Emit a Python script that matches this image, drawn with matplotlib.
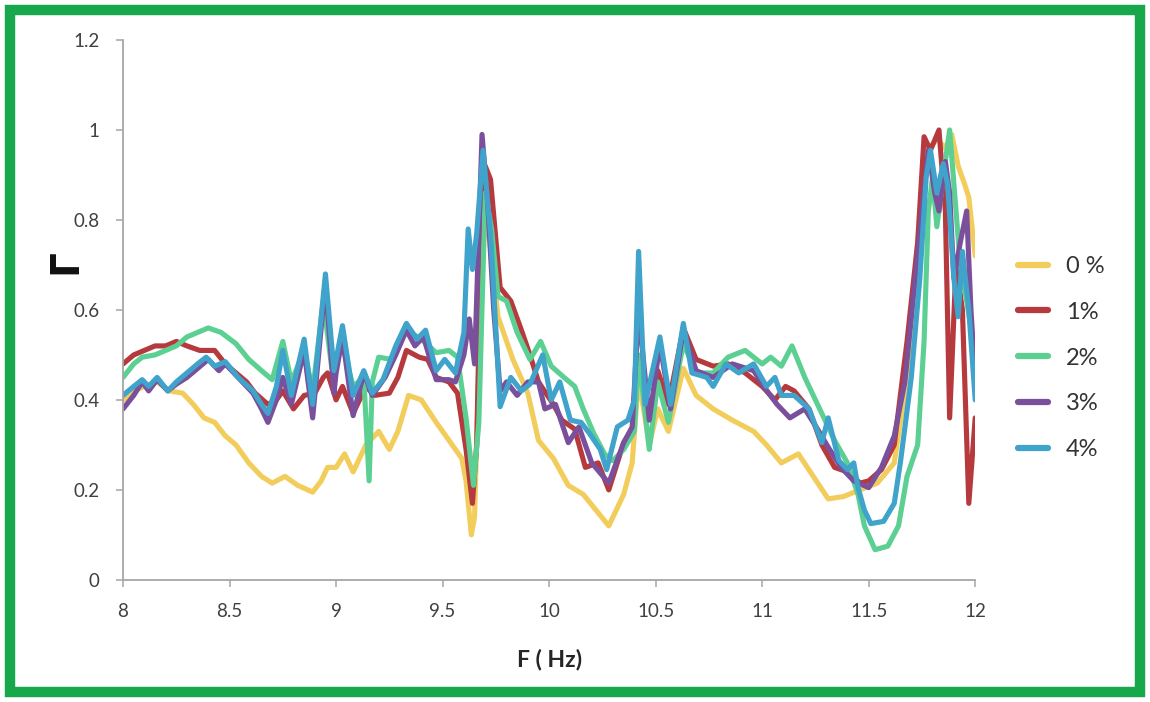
import numpy as np
import matplotlib
matplotlib.use('Agg')
import matplotlib.pyplot as plt
from matplotlib.patches import Rectangle

plt.rcParams['font.family'] = ['Lato', 'DejaVu Sans']

# ---- data ----
yellow_x = [8.00, 8.05, 8.10, 8.16, 8.22, 8.28, 8.33, 8.38, 8.43, 8.48, 8.53, 8.59, 8.65, 8.70, 8.76, 8.82,
            8.89, 8.93, 8.96, 9.00, 9.04, 9.08, 9.14, 9.20, 9.25, 9.29, 9.34, 9.40, 9.47, 9.53, 9.59, 9.61,
            9.635, 9.65, 9.68, 9.70, 9.73, 9.76, 9.83, 9.90, 9.95, 10.02, 10.09, 10.16, 10.22, 10.28, 10.35,
            10.39, 10.42, 10.47, 10.51, 10.56, 10.63, 10.69, 10.77, 10.86, 10.96, 11.02, 11.09, 11.17, 11.24,
            11.31, 11.38, 11.46, 11.54, 11.62, 11.68, 11.73, 11.77, 11.82, 11.86, 11.89, 11.92, 11.95, 11.97, 12.00]
yellow_y = [0.40, 0.42, 0.43, 0.44, 0.42, 0.415, 0.39, 0.36, 0.35, 0.32, 0.30, 0.26, 0.23, 0.215, 0.23, 0.21,
            0.195, 0.22, 0.25, 0.25, 0.28, 0.24, 0.30, 0.33, 0.29, 0.33, 0.41, 0.40, 0.35, 0.31, 0.27, 0.22,
            0.10, 0.14, 0.65, 0.82, 0.72, 0.585, 0.49, 0.415, 0.31, 0.27, 0.21, 0.19, 0.155, 0.12, 0.19,
            0.26, 0.45, 0.30, 0.38, 0.33, 0.47, 0.41, 0.38, 0.355, 0.33, 0.30, 0.26, 0.28, 0.23,
            0.18, 0.185, 0.20, 0.215, 0.26, 0.45, 0.75, 0.95, 0.98, 0.96, 0.99, 0.92, 0.88, 0.85, 0.72]

red_x = [8.00, 8.05, 8.10, 8.15, 8.20, 8.25, 8.30, 8.36, 8.43, 8.48, 8.53, 8.58, 8.62, 8.68, 8.72, 8.75,
         8.80, 8.85, 8.90, 8.94, 8.96, 9.00, 9.03, 9.08, 9.14, 9.18, 9.25, 9.29, 9.33, 9.39, 9.43, 9.47,
         9.53, 9.57, 9.61, 9.64, 9.66, 9.68, 9.70, 9.725, 9.77, 9.82, 9.87, 9.91, 9.95, 10.02, 10.06, 10.12,
         10.17, 10.23, 10.28, 10.35, 10.39, 10.42, 10.47, 10.51, 10.56, 10.63, 10.69, 10.77, 10.84, 10.92,
         11.00, 11.06, 11.11, 11.15, 11.22, 11.28, 11.34, 11.40, 11.46, 11.50, 11.56, 11.62, 11.68, 11.73,
         11.76, 11.79, 11.83, 11.86, 11.88, 11.91, 11.94, 11.97, 12.00]
red_y = [0.48, 0.50, 0.51, 0.52, 0.52, 0.53, 0.52, 0.51, 0.51, 0.48, 0.46, 0.44, 0.415, 0.39, 0.40, 0.42,
         0.38, 0.41, 0.415, 0.45, 0.46, 0.40, 0.43, 0.37, 0.43, 0.41, 0.415, 0.45, 0.51, 0.495, 0.49, 0.45,
         0.44, 0.415, 0.29, 0.17, 0.30, 0.75, 0.92, 0.89, 0.65, 0.62, 0.555, 0.50, 0.44, 0.39, 0.355, 0.335,
         0.25, 0.26, 0.20, 0.305, 0.335, 0.49, 0.36, 0.465, 0.39, 0.56, 0.49, 0.475, 0.48, 0.46,
         0.43, 0.40, 0.43, 0.42, 0.38, 0.30, 0.25, 0.24, 0.215, 0.22, 0.245, 0.30, 0.53, 0.75,
         0.985, 0.955, 1.00, 0.82, 0.36, 0.70, 0.60, 0.17, 0.36]

green_x = [8.00, 8.05, 8.09, 8.15, 8.20, 8.25, 8.30, 8.35, 8.40, 8.46, 8.53, 8.59, 8.65, 8.70, 8.75, 8.79,
           8.85, 8.89, 8.94, 8.98, 9.00, 9.03, 9.08, 9.13, 9.155, 9.17, 9.20, 9.26, 9.33, 9.40, 9.47, 9.53,
           9.57, 9.61, 9.645, 9.67, 9.70, 9.73, 9.76, 9.80, 9.85, 9.91, 9.96, 10.01, 10.07, 10.12, 10.16,
           10.21, 10.26, 10.30, 10.35, 10.40, 10.42, 10.47, 10.51, 10.56, 10.63, 10.69, 10.77, 10.84, 10.92,
           11.00, 11.04, 11.09, 11.14, 11.20, 11.24, 11.29, 11.34, 11.40, 11.45, 11.48, 11.53, 11.59, 11.64,
           11.68, 11.73, 11.76, 11.78, 11.80, 11.82, 11.85, 11.88, 11.90, 11.93, 11.96, 12.00]
green_y = [0.45, 0.48, 0.495, 0.50, 0.51, 0.52, 0.54, 0.55, 0.56, 0.55, 0.525, 0.49, 0.465, 0.445, 0.53, 0.44,
           0.51, 0.42, 0.62, 0.47, 0.49, 0.52, 0.43, 0.45, 0.22, 0.44, 0.495, 0.49, 0.555, 0.535, 0.505, 0.51,
           0.495, 0.36, 0.21, 0.35, 0.86, 0.78, 0.63, 0.62, 0.55, 0.49, 0.53, 0.475, 0.45, 0.43, 0.38,
           0.325, 0.28, 0.265, 0.29, 0.33, 0.50, 0.29, 0.44, 0.35, 0.525, 0.46, 0.46, 0.495, 0.51,
           0.48, 0.495, 0.475, 0.52, 0.45, 0.41, 0.36, 0.31, 0.26, 0.19, 0.12, 0.067, 0.075, 0.12,
           0.23, 0.30, 0.53, 0.82, 0.895, 0.785, 0.895, 1.00, 0.88, 0.70, 0.62, 0.50]

purple_x = [8.00, 8.05, 8.09, 8.12, 8.16, 8.21, 8.25, 8.30, 8.35, 8.40, 8.45, 8.48, 8.54, 8.61, 8.65, 8.68,
            8.72, 8.75, 8.79, 8.85, 8.89, 8.95, 8.99, 9.00, 9.03, 9.08, 9.13, 9.17, 9.23, 9.28, 9.33, 9.37,
            9.41, 9.47, 9.53, 9.56, 9.60, 9.625, 9.65, 9.685, 9.71, 9.74, 9.77, 9.80, 9.85, 9.90, 9.95, 9.98,
            10.03, 10.09, 10.14, 10.20, 10.28, 10.35, 10.39, 10.42, 10.47, 10.52, 10.57, 10.63, 10.69, 10.77,
            10.86, 10.96, 11.03, 11.07, 11.13, 11.20, 11.26, 11.31, 11.37, 11.43, 11.50, 11.56, 11.62, 11.67,
            11.71, 11.75, 11.78, 11.81, 11.83, 11.86, 11.88, 11.90, 11.93, 11.96, 11.98, 12.00]
purple_y = [0.38, 0.41, 0.44, 0.42, 0.445, 0.42, 0.435, 0.45, 0.47, 0.49, 0.465, 0.48, 0.45, 0.415, 0.38, 0.35,
            0.40, 0.45, 0.39, 0.51, 0.36, 0.66, 0.415, 0.46, 0.54, 0.365, 0.46, 0.41, 0.45, 0.50, 0.555, 0.52,
            0.54, 0.445, 0.445, 0.44, 0.50, 0.58, 0.48, 0.99, 0.85, 0.60, 0.42, 0.44, 0.41, 0.44, 0.44, 0.38,
            0.39, 0.305, 0.34, 0.26, 0.215, 0.305, 0.34, 0.60, 0.355, 0.525, 0.38, 0.555, 0.465, 0.45,
            0.48, 0.465, 0.415, 0.39, 0.36, 0.38, 0.335, 0.295, 0.25, 0.22, 0.205, 0.25, 0.32, 0.44,
            0.63, 0.82, 0.955, 0.86, 0.82, 0.93, 0.86, 0.67, 0.75, 0.82, 0.60, 0.45]

blue_x = [8.00, 8.05, 8.09, 8.12, 8.16, 8.21, 8.25, 8.30, 8.35, 8.39, 8.43, 8.48, 8.54, 8.61, 8.65, 8.68,
          8.72, 8.75, 8.79, 8.85, 8.89, 8.95, 8.99, 9.03, 9.08, 9.13, 9.17, 9.22, 9.28, 9.33, 9.38, 9.42,
          9.47, 9.51, 9.56, 9.60, 9.62, 9.64, 9.66, 9.69, 9.71, 9.725, 9.77, 9.82, 9.87, 9.91, 9.97, 10.01,
          10.05, 10.10, 10.15, 10.19, 10.24, 10.27, 10.32, 10.37, 10.40, 10.42, 10.45, 10.52, 10.57, 10.63,
          10.67, 10.74, 10.77, 10.83, 10.89, 10.96, 11.02, 11.06, 11.09, 11.15, 11.22, 11.28, 11.31, 11.36,
          11.40, 11.43, 11.45, 11.48, 11.51, 11.57, 11.62, 11.65, 11.70, 11.74, 11.77, 11.79, 11.82, 11.85,
          11.87, 11.90, 11.92, 11.94, 11.97, 12.00]
blue_y = [0.41, 0.43, 0.445, 0.43, 0.45, 0.42, 0.44, 0.46, 0.48, 0.495, 0.475, 0.485, 0.45, 0.42, 0.39, 0.37,
          0.43, 0.51, 0.41, 0.535, 0.39, 0.68, 0.465, 0.565, 0.41, 0.465, 0.415, 0.445, 0.52, 0.57, 0.535, 0.555,
          0.465, 0.49, 0.46, 0.55, 0.78, 0.69, 0.77, 0.955, 0.845, 0.77, 0.385, 0.45, 0.42, 0.435, 0.50, 0.40,
          0.44, 0.355, 0.35, 0.325, 0.29, 0.245, 0.34, 0.355, 0.40, 0.73, 0.39, 0.54, 0.39, 0.57,
          0.46, 0.45, 0.43, 0.48, 0.46, 0.48, 0.43, 0.45, 0.41, 0.41, 0.38, 0.305, 0.36, 0.265,
          0.245, 0.26, 0.205, 0.155, 0.125, 0.13, 0.17, 0.265, 0.45, 0.67, 0.895, 0.955, 0.86, 0.925,
          0.88, 0.67, 0.585, 0.73, 0.60, 0.40]

series = [
    ('0 %', yellow_x, yellow_y, '#f2cd5c'),
    ('1%', red_x, red_y, '#b63a3d'),
    ('2%', green_x, green_y, '#5ccf93'),
    ('3%', purple_x, purple_y, '#7a4f9c'),
    ('4%', blue_x, blue_y, '#3fa3cb'),
]

fig = plt.figure(figsize=(11.5, 7.02), dpi=100)
ax = fig.add_axes([0.107, 0.174, 0.741, 0.769])

for label, xs, ys, color in series:
    ax.plot(xs, ys, color=color, lw=3.7, label=label,
            solid_joinstyle='round', solid_capstyle='round')

ax.set_xlim(8, 12)
ax.set_ylim(0, 1.2)
ax.set_xticks(np.arange(8, 12.01, 0.5))
ax.set_xticklabels(['8', '8.5', '9', '9.5', '10', '10.5', '11', '11.5', '12'])
ax.set_yticks(np.arange(0, 1.21, 0.2))
ax.set_yticklabels(['0', '0.2', '0.4', '0.6', '0.8', '1', '1.2'])

# excel style axes
for side in ['top', 'right']:
    ax.spines[side].set_visible(False)
for side in ['left', 'bottom']:
    ax.spines[side].set_color('#a6a6a6')
    ax.spines[side].set_linewidth(1.3)
ax.tick_params(axis='both', direction='out', length=5, width=1.1, color='#a6a6a6',
               labelsize=13.5, labelcolor='#404040', pad=12)

ax.set_xlabel('F ( Hz)', fontsize=16.5, fontweight='bold', color='#262626', va='center')
ax.xaxis.set_label_coords(0.5, -0.148)
ax.set_ylabel('Γ', fontsize=28, fontweight='bold', color='#111111', va='center',
              family=['DejaVu Sans'])
ax.yaxis.set_label_coords(-0.068, 0.589)

leg = fig.legend(loc='center left', bbox_to_anchor=(0.885, 0.49), frameon=False, fontsize=17,
                 handlelength=1.3, handletextpad=0.75, labelspacing=1.05, borderpad=0,
                 borderaxespad=0, labelcolor='#333333')
for h in leg.get_lines():
    h.set_linewidth(4.5)

# green frame round the picture
fig.patches.append(Rectangle((0.0087, 0.0142), 0.9826, 0.9716, transform=fig.transFigure,
                             fill=False, edgecolor='#17a84b', lw=7.5))

plt.savefig('out.png', dpi=100)
plt.close()
